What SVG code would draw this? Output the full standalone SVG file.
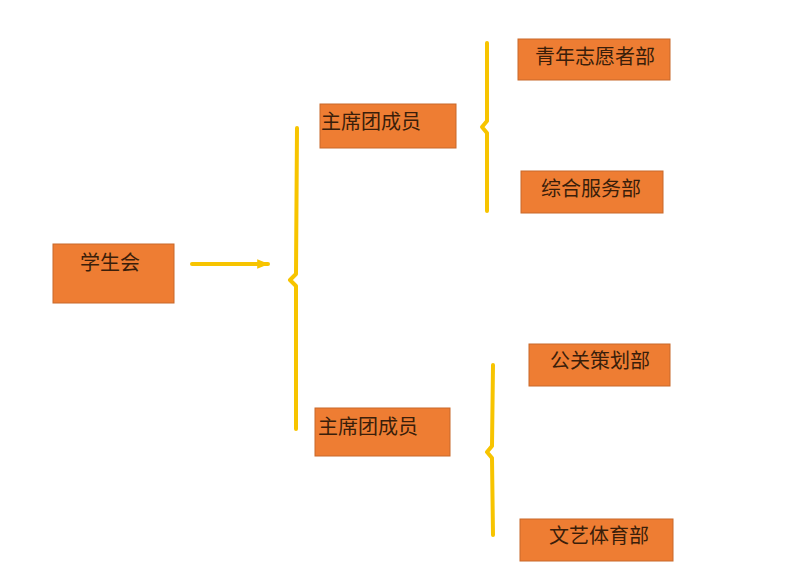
<svg xmlns="http://www.w3.org/2000/svg" width="787" height="577" viewBox="0 0 787 577">
<defs>
<style>
.box{fill:#EE7D33;stroke:#C8692A;stroke-width:1}
.t{font-family:"Noto Sans CJK SC","Noto Sans CJK JP",sans-serif;font-size:20px;fill:#3A1E0A}
.br{fill:none;stroke:#F7C400;stroke-width:4;stroke-linejoin:round;stroke-linecap:round}
</style>
<marker id="ah" viewBox="0 0 10 10" refX="9" refY="5" markerWidth="3" markerHeight="3" orient="auto">
<path d="M0,1 L10,5 L0,9 z" fill="#F7C400"/>
</marker>
</defs>
<rect width="787" height="577" fill="#FFFFFF"/>
<g id="connectors">
<line x1="192" y1="264" x2="268" y2="264" class="br" marker-end="url(#ah)"/>
<path class="br" d="M297 128 L296 274 L290 280 L296 286 L296 429"/>
<path class="br" d="M487 43 L487 121 L482 127 L487 133 L487 211"/>
<path class="br" d="M493 365 L492 446 L487 452 L492 458 L493 535"/>
</g>
<g id="n0"><rect class="box" x="53" y="244" width="121" height="59"/><text class="t" x="80" y="270" font-size="22">学生会</text></g>
<g id="n1"><rect class="box" x="320" y="104" width="136" height="44"/><text class="t" x="321" y="129">主席团成员</text></g>
<g id="n2"><rect class="box" x="315" y="408" width="135" height="48"/><text class="t" x="318" y="434">主席团成员</text></g>
<g id="n3"><rect class="box" x="518" y="39" width="152" height="41"/><text class="t" x="535" y="64">青年志愿者部</text></g>
<g id="n4"><rect class="box" x="521" y="171" width="142" height="42"/><text class="t" x="541" y="196">综合服务部</text></g>
<g id="n5"><rect class="box" x="529" y="344" width="141" height="42"/><text class="t" x="550" y="368">公关策划部</text></g>
<g id="n6"><rect class="box" x="520" y="519" width="153" height="42"/><text class="t" x="549" y="543">文艺体育部</text></g>
</svg>
